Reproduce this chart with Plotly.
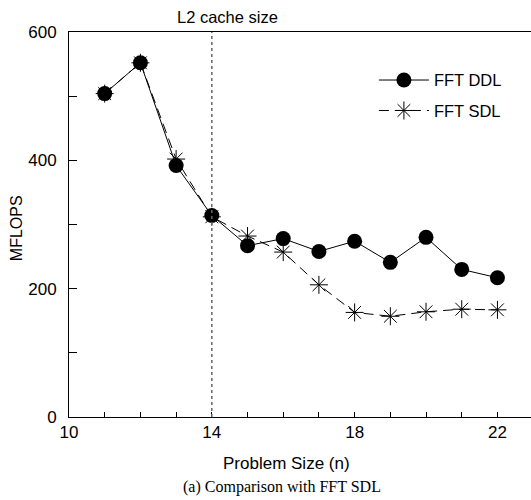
import plotly.graph_objects as go

# ---- data ----
problem_size = [11, 12, 13, 14, 15, 16, 17, 18, 19, 20, 21, 22]
fft_ddl = [504, 552, 392, 314, 267, 278, 258, 274, 241, 280, 230, 217]
fft_sdl = [504, 552, 402, 312, 282, 257, 206, 163, 157, 164, 168, 167]
series_names = ["FFT DDL", "FFT SDL"]
x_tick_vals = [10, 14, 18, 22]
y_tick_vals = [0, 200, 400, 600]
cache_size_n = 14
cache_label = "L2 cache size"
x_title = "Problem Size (n)"
y_title = "MFLOPS"
caption = "(a) Comparison with FFT SDL"

SANS = "Liberation Sans, Arial, Helvetica, sans-serif"
SERIF = "Liberation Serif, Times New Roman, serif"

fig = go.Figure()
fig.add_trace(go.Scatter(
    x=problem_size, y=fft_ddl, name=series_names[0], mode="lines+markers",
    line=dict(color="black", width=1),
    marker=dict(symbol="circle", size=15, color="black"),
    legendgroup="a",
))
fig.add_trace(go.Scatter(
    x=problem_size, y=fft_sdl, name=series_names[1], mode="lines+markers",
    line=dict(color="black", width=1, dash="10px,6px"),
    marker=dict(symbol="asterisk-open", size=15, color="black",
                line=dict(width=1, color="black")),
    legendgroup="b",
))

fig.add_shape(type="line", xref="x", yref="paper", x0=cache_size_n, x1=cache_size_n,
              y0=0, y1=1, line=dict(color="#666666", width=1.5, dash="dot"))
fig.add_annotation(xref="x", yref="paper", x=cache_size_n + 0.45, y=1.0, yshift=4,
                   text=cache_label, showarrow=False, yanchor="bottom",
                   font=dict(family=SANS, size=16.5, color="black"))
fig.add_annotation(xref="paper", yref="paper", x=0.47, y=-0.122, text=x_title,
                   showarrow=False, yanchor="middle",
                   font=dict(family=SANS, size=17, color="black"))
fig.add_annotation(xref="paper", yref="paper", x=0.46, y=-0.182, text=caption,
                   showarrow=False, yanchor="middle",
                   font=dict(family=SERIF, size=16, color="black"))
fig.add_annotation(xref="paper", yref="paper", x=-0.113, y=0.49, text=y_title,
                   textangle=-90, showarrow=False, xanchor="center", yanchor="middle",
                   font=dict(family=SANS, size=16, color="black"))

fig.update_layout(
    width=531, height=500,
    margin=dict(l=69, r=0, t=32, b=83),
    paper_bgcolor="white", plot_bgcolor="white",
    font=dict(family=SANS, size=16, color="black"),
    showlegend=True,
    legend=dict(x=0.66, y=0.92, xanchor="left", yanchor="top",
                bgcolor="rgba(0,0,0,0)", itemwidth=50, tracegroupgap=6,
                font=dict(family=SANS, size=16.5, color="black")),
    xaxis=dict(range=[10, 22.94], tickvals=x_tick_vals, ticks="inside", ticklen=5,
               tickcolor="black", showline=True, linecolor="black", linewidth=1,
               mirror=True, showgrid=False, zeroline=False,
               minor=dict(dtick=1, ticks="inside", ticklen=5, tickcolor="black", showgrid=False),
               tickfont=dict(family=SANS, size=17)),
    yaxis=dict(range=[0, 600], tickvals=y_tick_vals, ticks="inside", ticklen=8,
               tickcolor="black", showline=True, linecolor="black", linewidth=1,
               showgrid=False, zeroline=False, ticklabelstandoff=8,
               minor=dict(dtick=100, ticks="inside", ticklen=8, tickcolor="black", showgrid=False),
               tickfont=dict(family=SANS, size=17)),
)

fig.write_html("out.html")
